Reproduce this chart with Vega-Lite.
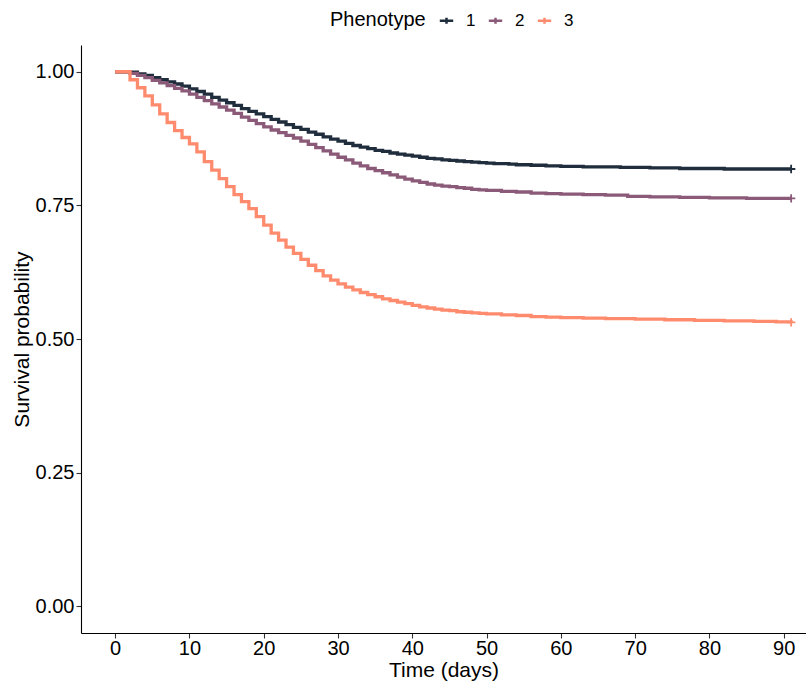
{
  "$schema": "https://vega.github.io/schema/vega-lite/v6.json",
  "width": 725,
  "height": 588,
  "autosize": "none",
  "padding": {"left": 81, "top": 45, "right": 0, "bottom": 48},
  "background": "white",
  "config": {
    "view": {"stroke": null},
    "font": "Liberation Sans",
    "axis": {
      "grid": false,
      "domainColor": "#000000",
      "domainWidth": 1.1,
      "tickColor": "#333333",
      "tickSize": 5,
      "tickWidth": 1.1,
      "labelColor": "#000000",
      "labelFontSize": 20,
      "labelPadding": 2,
      "titleColor": "#000000",
      "titleFontSize": 21,
      "titleFontWeight": "normal",
      "labelFont": "Liberation Sans",
      "titleFont": "Liberation Sans"
    }
  },
  "data": {
    "values": [
      {"p":"1","t":0,"s":1.000},{"p":"1","t":2,"s":0.999},{"p":"1","t":3,"s":0.996},{"p":"1","t":4,"s":0.993},{"p":"1","t":5,"s":0.989},{"p":"1","t":6,"s":0.985},{"p":"1","t":7,"s":0.981},{"p":"1","t":8,"s":0.977},{"p":"1","t":9,"s":0.973},{"p":"1","t":10,"s":0.968},{"p":"1","t":11,"s":0.963},{"p":"1","t":12,"s":0.958},{"p":"1","t":13,"s":0.952},{"p":"1","t":14,"s":0.947},{"p":"1","t":15,"s":0.942},{"p":"1","t":16,"s":0.937},{"p":"1","t":17,"s":0.931},{"p":"1","t":18,"s":0.926},{"p":"1","t":19,"s":0.921},{"p":"1","t":20,"s":0.916},{"p":"1","t":21,"s":0.911},{"p":"1","t":22,"s":0.906},{"p":"1","t":23,"s":0.901},{"p":"1","t":24,"s":0.896},{"p":"1","t":25,"s":0.892},{"p":"1","t":26,"s":0.887},{"p":"1","t":27,"s":0.883},{"p":"1","t":28,"s":0.878},{"p":"1","t":29,"s":0.874},{"p":"1","t":30,"s":0.870},{"p":"1","t":31,"s":0.866},{"p":"1","t":32,"s":0.862},{"p":"1","t":33,"s":0.859},{"p":"1","t":34,"s":0.856},{"p":"1","t":35,"s":0.853},{"p":"1","t":36,"s":0.851},{"p":"1","t":37,"s":0.848},{"p":"1","t":38,"s":0.846},{"p":"1","t":39,"s":0.844},{"p":"1","t":40,"s":0.842},{"p":"1","t":41,"s":0.840},{"p":"1","t":42,"s":0.838},{"p":"1","t":43,"s":0.837},{"p":"1","t":44,"s":0.835},{"p":"1","t":45,"s":0.834},{"p":"1","t":46,"s":0.833},{"p":"1","t":47,"s":0.832},{"p":"1","t":48,"s":0.831},{"p":"1","t":49,"s":0.830},{"p":"1","t":50,"s":0.829},{"p":"1","t":51,"s":0.828},{"p":"1","t":53,"s":0.827},{"p":"1","t":54,"s":0.826},{"p":"1","t":56,"s":0.825},{"p":"1","t":58,"s":0.824},{"p":"1","t":60,"s":0.823},{"p":"1","t":63,"s":0.822},{"p":"1","t":68,"s":0.821},{"p":"1","t":72,"s":0.820},{"p":"1","t":76,"s":0.819},{"p":"1","t":82,"s":0.818},{"p":"1","t":91,"s":0.818},
      {"p":"2","t":0,"s":1.000},{"p":"2","t":2,"s":0.997},{"p":"2","t":3,"s":0.993},{"p":"2","t":4,"s":0.989},{"p":"2","t":5,"s":0.984},{"p":"2","t":6,"s":0.979},{"p":"2","t":7,"s":0.974},{"p":"2","t":8,"s":0.969},{"p":"2","t":9,"s":0.964},{"p":"2","t":10,"s":0.958},{"p":"2","t":11,"s":0.952},{"p":"2","t":12,"s":0.946},{"p":"2","t":13,"s":0.940},{"p":"2","t":14,"s":0.934},{"p":"2","t":15,"s":0.928},{"p":"2","t":16,"s":0.922},{"p":"2","t":17,"s":0.915},{"p":"2","t":18,"s":0.909},{"p":"2","t":19,"s":0.903},{"p":"2","t":20,"s":0.897},{"p":"2","t":21,"s":0.891},{"p":"2","t":22,"s":0.886},{"p":"2","t":23,"s":0.881},{"p":"2","t":24,"s":0.876},{"p":"2","t":25,"s":0.870},{"p":"2","t":26,"s":0.864},{"p":"2","t":27,"s":0.858},{"p":"2","t":28,"s":0.852},{"p":"2","t":29,"s":0.846},{"p":"2","t":30,"s":0.840},{"p":"2","t":31,"s":0.835},{"p":"2","t":32,"s":0.829},{"p":"2","t":33,"s":0.824},{"p":"2","t":34,"s":0.819},{"p":"2","t":35,"s":0.815},{"p":"2","t":36,"s":0.811},{"p":"2","t":37,"s":0.807},{"p":"2","t":38,"s":0.803},{"p":"2","t":39,"s":0.799},{"p":"2","t":40,"s":0.796},{"p":"2","t":41,"s":0.793},{"p":"2","t":42,"s":0.790},{"p":"2","t":43,"s":0.788},{"p":"2","t":44,"s":0.786},{"p":"2","t":45,"s":0.785},{"p":"2","t":46,"s":0.783},{"p":"2","t":47,"s":0.782},{"p":"2","t":48,"s":0.780},{"p":"2","t":49,"s":0.779},{"p":"2","t":50,"s":0.778},{"p":"2","t":52,"s":0.776},{"p":"2","t":54,"s":0.775},{"p":"2","t":56,"s":0.773},{"p":"2","t":58,"s":0.772},{"p":"2","t":60,"s":0.771},{"p":"2","t":63,"s":0.770},{"p":"2","t":66,"s":0.769},{"p":"2","t":69,"s":0.767},{"p":"2","t":72,"s":0.766},{"p":"2","t":76,"s":0.765},{"p":"2","t":80,"s":0.764},{"p":"2","t":85,"s":0.763},{"p":"2","t":91,"s":0.763},
      {"p":"3","t":0,"s":1.000},{"p":"3","t":2,"s":0.985},{"p":"3","t":3,"s":0.970},{"p":"3","t":4,"s":0.955},{"p":"3","t":5,"s":0.938},{"p":"3","t":6,"s":0.921},{"p":"3","t":7,"s":0.905},{"p":"3","t":8,"s":0.890},{"p":"3","t":9,"s":0.877},{"p":"3","t":10,"s":0.865},{"p":"3","t":11,"s":0.850},{"p":"3","t":12,"s":0.832},{"p":"3","t":13,"s":0.816},{"p":"3","t":14,"s":0.800},{"p":"3","t":15,"s":0.785},{"p":"3","t":16,"s":0.770},{"p":"3","t":17,"s":0.757},{"p":"3","t":18,"s":0.744},{"p":"3","t":19,"s":0.729},{"p":"3","t":20,"s":0.713},{"p":"3","t":21,"s":0.698},{"p":"3","t":22,"s":0.685},{"p":"3","t":23,"s":0.672},{"p":"3","t":24,"s":0.660},{"p":"3","t":25,"s":0.649},{"p":"3","t":26,"s":0.638},{"p":"3","t":27,"s":0.628},{"p":"3","t":28,"s":0.618},{"p":"3","t":29,"s":0.610},{"p":"3","t":30,"s":0.603},{"p":"3","t":31,"s":0.597},{"p":"3","t":32,"s":0.592},{"p":"3","t":33,"s":0.587},{"p":"3","t":34,"s":0.583},{"p":"3","t":35,"s":0.579},{"p":"3","t":36,"s":0.575},{"p":"3","t":37,"s":0.572},{"p":"3","t":38,"s":0.569},{"p":"3","t":39,"s":0.566},{"p":"3","t":40,"s":0.563},{"p":"3","t":41,"s":0.560},{"p":"3","t":42,"s":0.558},{"p":"3","t":43,"s":0.556},{"p":"3","t":44,"s":0.554},{"p":"3","t":45,"s":0.553},{"p":"3","t":46,"s":0.551},{"p":"3","t":47,"s":0.550},{"p":"3","t":48,"s":0.549},{"p":"3","t":49,"s":0.548},{"p":"3","t":50,"s":0.547},{"p":"3","t":52,"s":0.545},{"p":"3","t":54,"s":0.544},{"p":"3","t":56,"s":0.542},{"p":"3","t":58,"s":0.541},{"p":"3","t":60,"s":0.540},{"p":"3","t":63,"s":0.539},{"p":"3","t":66,"s":0.538},{"p":"3","t":70,"s":0.537},{"p":"3","t":74,"s":0.536},{"p":"3","t":78,"s":0.535},{"p":"3","t":82,"s":0.534},{"p":"3","t":86,"s":0.533},{"p":"3","t":89,"s":0.532},{"p":"3","t":91,"s":0.531}
    ]
  },
  "encoding": {
    "x": {
      "field": "t", "type": "quantitative", "title": "Time (days)",
      "scale": {"domain": [-4.6, 93], "nice": false, "zero": false},
      "axis": {"values": [0,10,20,30,40,50,60,70,80,90], "labelPadding": 0, "titleY": 37, "titleBaseline": "middle"}
    },
    "y": {
      "field": "s", "type": "quantitative", "title": "Survival probability",
      "scale": {"domain": [-0.05, 1.05], "nice": false, "zero": false},
      "axis": {"values": [0,0.25,0.5,0.75,1], "format": ".2f", "titleX": -59, "titleBaseline": "middle"}
    },
    "color": {
      "field": "p", "type": "nominal", "title": "Phenotype",
      "scale": {"domain": ["1","2","3"], "range": ["#1F2D3D", "#8B5A78", "#FF8B6E"]},
      "legend": {
        "orient": "none", "direction": "horizontal", "titleOrient": "left",
        "legendX": 249, "legendY": -33,
        "titleFontSize": 20, "titleFontWeight": "normal", "titleColor": "#000000",
        "labelFontSize": 17, "labelColor": "#000000",
        "titlePadding": 12, "columnPadding": 7, "labelOffset": 11,
        "symbolType": "M-1,0H1M0,-0.45V0.45", "symbolSize": 180, "symbolStrokeWidth": 2.5,
        "symbolFillColor": "transparent"
      }
    }
  },
  "layer": [
    {"mark": {"type": "line", "interpolate": "step-after", "strokeWidth": 3.3}},
    {
      "transform": [{"filter": "datum.t == 91"}],
      "mark": {"type": "point", "shape": "M-1,0H1M0,-1V1", "filled": false, "size": 70, "strokeWidth": 1.8, "opacity": 1},
      "encoding": {"stroke": {"field": "p", "type": "nominal", "legend": null, "scale": {"domain": ["1","2","3"], "range": ["#1F2D3D", "#8B5A78", "#FF8B6E"]}}}
    }
  ]
}
